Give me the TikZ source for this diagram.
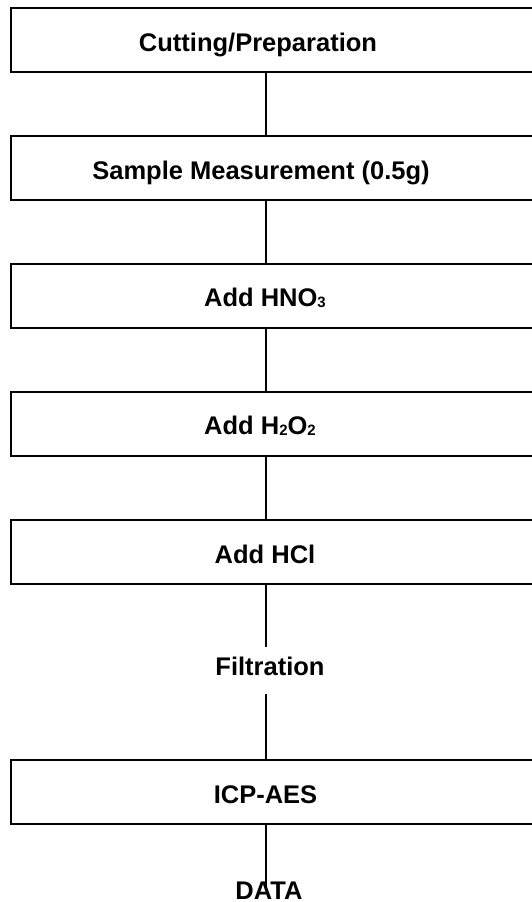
\documentclass[tikz,border=0pt]{standalone}
\usepackage{fontspec}
\setmainfont{Liberation Sans}

\tikzset{
  stepbox/.style={draw, line width=2pt, minimum width=560pt, minimum height=64pt, anchor=north west, inner sep=0pt},
  steptext/.style={anchor=base, inner sep=0pt, font=\bfseries\fontsize{25.5}{30}\selectfont},
  link/.style={line width=2pt}
}
\newcommand{\chemsub}[1]{\raisebox{-1pt}{\fontsize{15}{15}\selectfont #1}}

\begin{document}
\begin{tikzpicture}[x=1pt, y=-1pt]
\useasboundingbox (0,0) rectangle (531,902);
\coordinate (spine) at (266,0);

\node[stepbox] (cutbox) at (10,7) {};
\node[steptext] (cut) at (258,51.5) {Cutting/Preparation};

\node[stepbox] (sampbox) at (10,135) {};
\node[steptext] (samp) at (261,179.3) {Sample Measurement (0.5g)};

\node[stepbox] (hnobox) at (10,263) {};
\node[steptext] (hno) at (265,306.5) {Add HNO\chemsub{3}};

\node[stepbox] (hoobox) at (10,391) {};
\node[steptext] (hoo) at (260,434.5) {Add H\chemsub{2}O\chemsub{2}};

\node[stepbox] (hclbox) at (10,519) {};
\node[steptext] (hcl) at (265,563) {Add HCl};

\node[steptext, text height=19pt, text depth=10pt, inner ysep=9pt] (filt) at (270,675) {Filtration};

\node[stepbox] (icpbox) at (10,759) {};
\node[steptext] (icp) at (265.5,803) {ICP-AES};

\node[steptext, text height=19pt] (data) at (269,899) {DATA};

\draw[link] (cutbox.south -| spine) -- (sampbox.north -| spine);
\draw[link] (sampbox.south -| spine) -- (hnobox.north -| spine);
\draw[link] (hnobox.south -| spine) -- (hoobox.north -| spine);
\draw[link] (hoobox.south -| spine) -- (hclbox.north -| spine);
\draw[link] (hclbox.south -| spine) -- (filt.north -| spine);
\draw[link] (filt.south -| spine) -- (icpbox.north -| spine);
\draw[link] (icpbox.south -| spine) -- (data.center -| spine);
\end{tikzpicture}
\end{document}
